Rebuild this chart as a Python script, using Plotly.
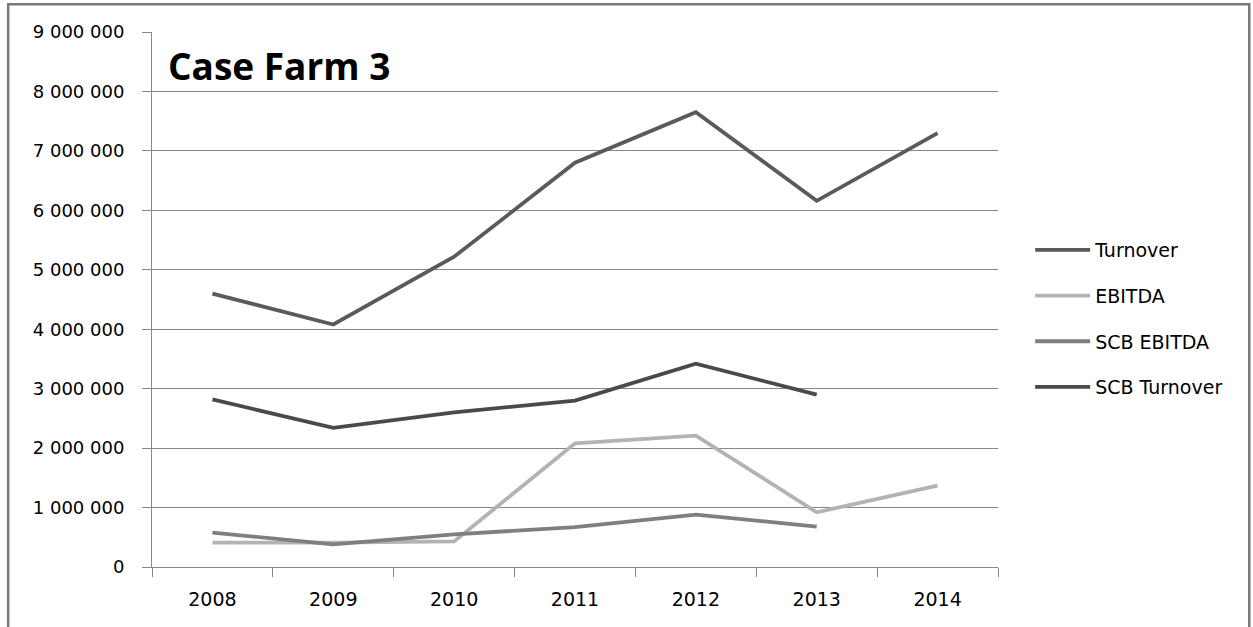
import plotly.graph_objects as go

years = ["2008", "2009", "2010", "2011", "2012", "2013", "2014"]
turnover = [4600000, 4080000, 5220000, 6800000, 7650000, 6160000, 7300000]
ebitda = [410000, 410000, 430000, 2080000, 2210000, 920000, 1370000]
scb_ebitda = [580000, 380000, 550000, 670000, 880000, 680000, None]
scb_turnover = [2820000, 2340000, 2600000, 2800000, 3420000, 2900000, None]
y_ticks = [i * 1000000 for i in range(10)]

series = [
    ("Turnover", turnover, "#5a5a5a"),
    ("EBITDA", ebitda, "#b3b3b3"),
    ("SCB EBITDA", scb_ebitda, "#7f7f7f"),
    ("SCB Turnover", scb_turnover, "#4a4a4a"),
]

fig = go.Figure()
for name, vals, color in series:
    fig.add_trace(go.Scatter(
        x=years, y=vals, name=name, legendgroup=name, mode="lines",
        line=dict(color=color, width=3.8),
        connectgaps=False,
    ))

grid = "#878787"
font = "'DejaVu Sans', sans-serif"

# thousands grouped with spaces, e.g. "9 000 000"
tick_text = [f"{v:,d}".replace(",", " ") for v in y_ticks]

fig.update_layout(
    width=1253, height=627,
    margin=dict(l=152, r=255, t=32, b=60),
    paper_bgcolor="white", plot_bgcolor="white",
    font=dict(family=font, size=17, color="#000000"),
    showlegend=True,
    legend=dict(
        x=1.038, y=0.628, xanchor="left", yanchor="top",
        font=dict(family=font, size=19, color="#000000"),
        tracegroupgap=18, itemwidth=55,
        bgcolor="rgba(0,0,0,0)",
    ),
    xaxis=dict(
        type="category", range=[-0.5, 6.5], showgrid=False,
        showline=True, linecolor=grid, linewidth=1,
        ticks="outside", tickson="boundaries", ticklen=9, tickcolor=grid,
        tickfont=dict(family=font, size=19), zeroline=False,
        ticklabelstandoff=15,
    ),
    yaxis=dict(
        range=[0, 9000000], tickvals=y_ticks, ticktext=tick_text,
        showgrid=True, gridcolor=grid, gridwidth=1,
        showline=True, linecolor=grid, linewidth=1,
        ticks="outside", ticklen=9, tickcolor=grid,
        tickfont=dict(family=font, size=18), zeroline=False,
        ticklabelstandoff=14,
    ),
    annotations=[dict(
        text="<b>Case Farm 3</b>", x=0.016, y=0.937, xref="paper", yref="paper",
        xanchor="left", yanchor="middle", showarrow=False,
        font=dict(family="'Open Sans', sans-serif", size=37, color="#000000"),
    )],
    shapes=[dict(
        type="rect", xref="paper", yref="paper",
        x0=-0.170, x1=1.297, y0=-0.3, y1=1.052,
        line=dict(color="#7a7a7a", width=2.5), fillcolor="rgba(0,0,0,0)",
        layer="below",
    )],
)

fig.write_html("out.html")
